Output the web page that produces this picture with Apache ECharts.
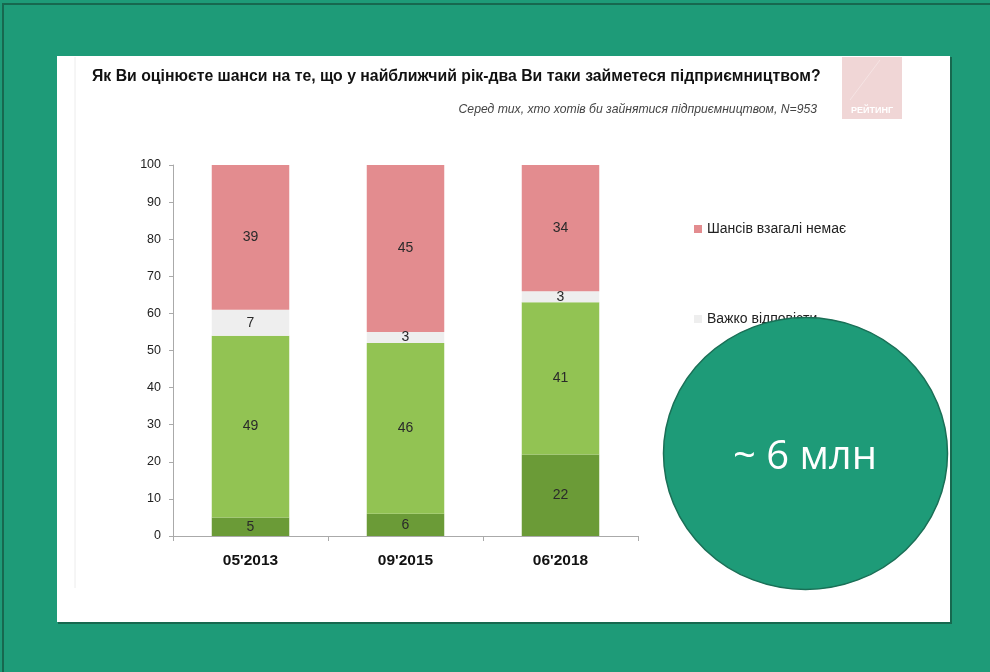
<!DOCTYPE html>
<html>
<head>
<meta charset="utf-8">
<script src="https://cdn.jsdelivr.net/npm/echarts@6/dist/echarts.min.js"></script>
<style>
    html, body {margin: 0; padding: 0; background: #1e9b78;}
    #main {width: 990px; height: 672px;}
</style>
</head>
<body>
<div id="main"></div>
<script>
    // хвилі опитування
    const waves = ["05'2013", "09'2015", "06'2018"];
    // значення, %
    const sureYes = [5, 6, 22];
    const likelyYes = [49, 46, 41];
    const hardToSay = [7, 3, 3];
    const noChance = [39, 45, 34];
    const yTicks = [0, 10, 20, 30, 40, 50, 60, 70, 80, 90, 100];

    const titleText = 'Як Ви оцінюєте шанси на те, що у найближчий рік-два Ви таки займетеся підприємництвом?';
    const subText = 'Серед тих, хто хотів би зайнятися підприємництвом, N=953';
    const bubbleText = '~ 6 млн';

    const green = '#1e9b78';
    const darkGreen = '#17684f';
    const font = '"Liberation Sans", Arial, sans-serif';

    const makeBar = (name, data, color) => ({
        name: name,
        type: 'bar',
        stack: 'all',
        barWidth: '50%',
        data: data,
        itemStyle: {color: color},
        label: {
            show: true,
            position: 'inside',
            color: '#2a2a2a',
            fontSize: 14,
            fontFamily: font
        }
    });

    const myChart = echarts.init(document.getElementById('main'));
    myChart.setOption({
        backgroundColor: green,
        animation: false,
        title: [
            {
                text: titleText,
                left: 87,
                top: 64,
                textStyle: {fontSize: 15.8, fontWeight: 'bold', color: '#111', fontFamily: font}
            },
            {
                text: subText,
                right: 168,
                top: 99,
                textStyle: {fontSize: 12.2, fontWeight: 'normal', fontStyle: 'italic', color: '#444', fontFamily: font}
            }
        ],
        legend: {
            data: ['Шансів взагалі немає', 'Важко відповісти'],
            orient: 'vertical',
            left: 689,
            top: 217,
            itemGap: 76,
            itemWidth: 8,
            itemHeight: 8,
            icon: 'rect',
            textStyle: {fontSize: 14, color: '#222', fontFamily: font}
        },
        grid: {left: 173, right: 352, top: 165, bottom: 136},
        xAxis: {
            type: 'category',
            data: waves,
            axisLine: {lineStyle: {color: '#aaa'}},
            axisTick: {show: true, length: 5, lineStyle: {color: '#aaa'}},
            axisLabel: {fontSize: 15.5, fontWeight: 'bold', color: '#111', margin: 17, fontFamily: font}
        },
        yAxis: {
            type: 'value',
            min: 0,
            max: 100,
            interval: 10,
            axisLine: {show: true, lineStyle: {color: '#aaa'}},
            axisTick: {show: true, length: 4, lineStyle: {color: '#aaa'}},
            splitLine: {show: false},
            axisLabel: {
                fontSize: 12.5,
                color: '#222',
                margin: 12,
                fontFamily: font,
                formatter: v => yTicks.indexOf(v) > -1 ? String(v) : ''
            }
        },
        series: [
            makeBar('Впевнені, що займуться', sureYes, '#6b9b37'),
            makeBar('Шанси є', likelyYes, '#92c353'),
            makeBar('Важко відповісти', hardToSay, '#eeeeee'),
            makeBar('Шансів взагалі немає', noChance, '#e38c8f')
        ],
        graphic: [
            // рамка слайду
            {type: 'rect', z: -20, shape: {x: 3, y: 4, width: 1000, height: 700},
                style: {fill: 'none', stroke: darkGreen, lineWidth: 2}},
            // біла панель з тінню
            {type: 'rect', z: -19, shape: {x: 58, y: 57, width: 894, height: 567},
                style: {fill: darkGreen}},
            {type: 'rect', z: -18, shape: {x: 57, y: 56, width: 893, height: 566},
                style: {fill: '#ffffff'}},
            {type: 'line', z: -17, shape: {x1: 75, y1: 57, x2: 75, y2: 588},
                style: {stroke: '#ececec', lineWidth: 1}},
            // логотип
            {type: 'rect', z: -16, shape: {x: 842, y: 57, width: 60, height: 62},
                style: {fill: '#f0d6d6'}},
            {type: 'line', z: -15, shape: {x1: 850, y1: 100, x2: 880, y2: 60},
                style: {stroke: '#f6e4e4', lineWidth: 1}},
            {type: 'text', z: -15, x: 872, y: 111,
                style: {text: 'РЕЙТИНГ', fill: '#ffffff', fontSize: 9, fontWeight: 'bold', fontFamily: font,
                    align: 'center', verticalAlign: 'middle'}},
            // коло
            {type: 'circle', z: 100, x: 805.5, y: 453.5, scaleY: 136 / 142,
                shape: {cx: 0, cy: 0, r: 142},
                style: {fill: green, stroke: '#1a6f56', lineWidth: 1.5}},
            {type: 'text', z: 101, x: 805, y: 458,
                style: {text: bubbleText, fill: '#ffffff', fontSize: 40, fontFamily: '"Open Sans", "Noto Sans", sans-serif',
                    align: 'center', verticalAlign: 'middle'}}
        ]
    });
</script>
</body>
</html>
